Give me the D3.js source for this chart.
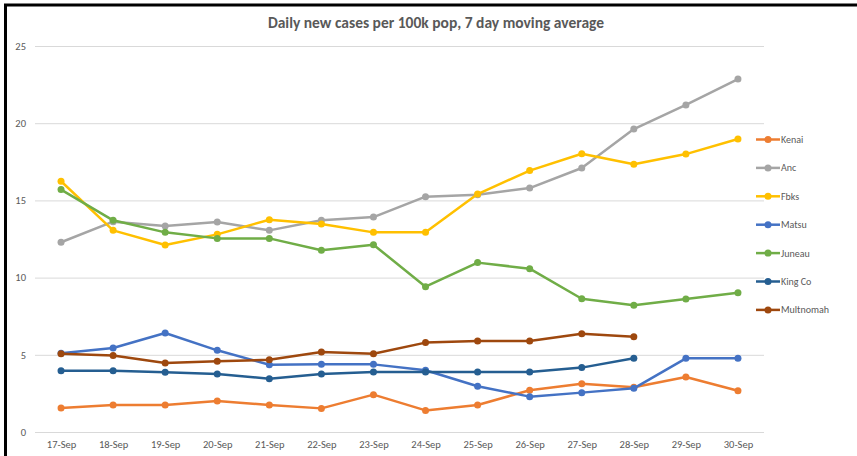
<!DOCTYPE html>
<html>
<head>
<script src="https://d3js.org/d3.v7.min.js"></script>
<style>
  body { margin: 0; background: #fff; }
  text { font-family: Calibri, Carlito, "Open Sans", Arial, sans-serif; fill: #595959; }
  .tick text { font-size: 10.5px; }
  .legend text { font-size: 10px; }
</style>
</head>
<body>
<svg id="main" width="857" height="456"></svg>
<script>
var days = ["17-Sep","18-Sep","19-Sep","20-Sep","21-Sep","22-Sep","23-Sep","24-Sep","25-Sep","26-Sep","27-Sep","28-Sep","29-Sep","30-Sep"];
var yTicks = [0, 5, 10, 15, 20, 25];

var names = ["Kenai","Anc","Fbks","Matsu","Juneau","King Co","Multnomah"];
var colors = ["#ED7D31","#A5A5A5","#FFC000","#4472C4","#70AD47","#255E91","#9E480E"];

var kenai     = [1.55, 1.75, 1.75, 2.0, 1.75, 1.53, 2.42, 1.4, 1.75, 2.7, 3.13, 2.9, 3.56, 2.67];
var anc       = [12.29, 13.62, 13.34, 13.6, 13.06, 13.71, 13.92, 15.24, 15.37, 15.8, 17.1, 19.62, 21.18, 22.86];
var fbks      = [16.24, 13.06, 12.11, 12.8, 13.75, 13.47, 12.93, 12.93, 15.41, 16.93, 18.02, 17.34, 18.0, 18.98];
var matsu     = [5.1, 5.44, 6.41, 5.29, 4.36, 4.38, 4.38, 4.0, 2.96, 2.29, 2.55, 2.83, 4.77, 4.77];
var juneau    = [15.7, 13.71, 12.93, 12.54, 12.54, 11.77, 12.13, 9.41, 10.97, 10.58, 8.63, 8.21, 8.61, 9.02];
var kingCo    = [3.97, 3.97, 3.87, 3.76, 3.45, 3.76, 3.89, 3.89, 3.89, 3.89, 4.17, 4.77];
var multnomah = [5.07, 4.96, 4.47, 4.58, 4.68, 5.18, 5.07, 5.79, 5.89, 5.89, 6.37, 6.17];

var seriesValues = [kenai, anc, fbks, matsu, juneau, kingCo, multnomah];

var svg = d3.select('#main');

// frame
svg.append('rect').attr('x', 0).attr('y', 0).attr('width', 857).attr('height', 456).attr('fill', '#fff');
svg.append('line').attr('x1', 5.5).attr('x2', 5.5).attr('y1', 4).attr('y2', 456)
  .attr('stroke', '#000').attr('stroke-width', 3);
svg.append('line').attr('x1', 4).attr('x2', 857).attr('y1', 5).attr('y2', 5)
  .attr('stroke', '#000').attr('stroke-width', 3);

var x = d3.scalePoint().domain(days).range([35, 764]).padding(0.5);
var y = d3.scaleLinear().domain([0, 25]).range([432, 46]);

// gridlines
svg.append('g').selectAll('line').data(yTicks).enter().append('line')
  .attr('x1', 35).attr('x2', 764)
  .attr('y1', function(d) { return y(d) + 0.5; })
  .attr('y2', function(d) { return y(d) + 0.5; })
  .attr('stroke', '#d9d9d9').attr('stroke-width', 1);

// y axis
var yAxis = svg.append('g').attr('transform', 'translate(29,0)')
  .call(d3.axisLeft(y).tickValues(yTicks).tickSize(0).tickPadding(3));
yAxis.select('.domain').remove();
yAxis.selectAll('text').attr('fill', '#595959').style('font-family', null);

// x axis
var xAxis = svg.append('g').attr('transform', 'translate(0,436)')
  .call(d3.axisBottom(x).tickSize(0).tickPadding(5));
xAxis.select('.domain').remove();
xAxis.selectAll('text').attr('fill', '#595959').style('font-family', null);

// title
svg.append('text').attr('x', 436).attr('y', 28).attr('text-anchor', 'middle')
  .style('font-size', '15.5px').style('font-weight', 'bold').text('Daily new cases per 100k pop, 7 day moving average');

var line = d3.line()
  .x(function(d, i) { return x(days[i]); })
  .y(function(d) { return y(d); });

var plot = svg.append('g');
seriesValues.forEach(function(vals, s) {
  plot.append('path').datum(vals)
    .attr('d', line)
    .attr('fill', 'none')
    .attr('stroke', colors[s])
    .attr('stroke-width', 2.5)
    .attr('stroke-linejoin', 'round');
  plot.selectAll('.dot' + s).data(vals).enter().append('circle')
    .attr('cx', function(d, i) { return x(days[i]); })
    .attr('cy', function(d) { return y(d); })
    .attr('r', 3.5)
    .attr('fill', colors[s]);
});

// legend
var legend = svg.append('g').attr('class', 'legend');
var rows = legend.selectAll('g').data(names).enter().append('g')
  .attr('transform', function(d, i) { return 'translate(0,' + (139.5 + i * 28.4) + ')'; });
rows.append('line').attr('x1', 756).attr('x2', 780).attr('y1', 0).attr('y2', 0)
  .attr('stroke', function(d, i) { return colors[i]; }).attr('stroke-width', 2.5);
rows.append('circle').attr('cx', 768).attr('cy', 0).attr('r', 3.5)
  .attr('fill', function(d, i) { return colors[i]; });
rows.append('text').attr('x', 781).attr('y', 3.5).text(function(d) { return d; });
</script>
</body>
</html>
